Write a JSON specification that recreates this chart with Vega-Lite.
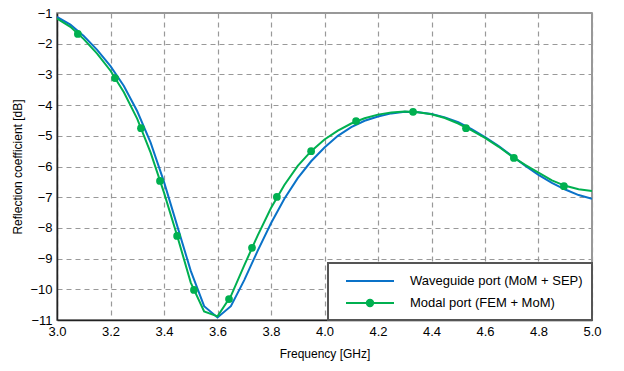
{
  "$schema": "https://vega.github.io/schema/vega-lite/v6.json",
  "width": 535,
  "height": 307,
  "autosize": "none",
  "padding": {"left": 57, "top": 13, "right": 32, "bottom": 51},
  "background": "white",
  "config": {
    "font": "Liberation Sans",
    "view": {"stroke": "#777", "strokeWidth": 1.5},
    "axis": {
      "labelFont": "Liberation Sans",
      "labelFontSize": 13,
      "labelColor": "#000",
      "labelFlush": false,
      "titleFont": "Liberation Sans",
      "titleFontSize": 12,
      "titleFontWeight": "normal",
      "titleColor": "#000",
      "grid": true,
      "gridColor": "#999",
      "gridDash": [5, 4],
      "gridWidth": 1.2,
      "gridOpacity": 1,
      "domainColor": "#222",
      "domainWidth": 1.5,
      "ticks": false,
      "labelPadding": 5
    },
    "legend": {
      "orient": "bottom-right",
      "offset": 0,
      "fillColor": "white",
      "strokeColor": "#555",
      "padding": 9,
      "labelFont": "Liberation Sans",
      "labelFontSize": 13,
      "labelColor": "#000",
      "labelOffset": 55,
      "labelLimit": 400,
      "rowPadding": 6,
      "symbolSize": 256,
      "symbolStrokeWidth": 2
    }
  },
  "datasets": {
    "wg": [
      {"f": 3.00, "db": -1.13}, {"f": 3.05, "db": -1.38}, {"f": 3.10, "db": -1.75}, {"f": 3.15, "db": -2.2},
      {"f": 3.20, "db": -2.73}, {"f": 3.25, "db": -3.38}, {"f": 3.30, "db": -4.2}, {"f": 3.35, "db": -5.22},
      {"f": 3.40, "db": -6.5}, {"f": 3.45, "db": -7.95}, {"f": 3.50, "db": -9.4}, {"f": 3.55, "db": -10.55},
      {"f": 3.60, "db": -10.92}, {"f": 3.65, "db": -10.55}, {"f": 3.70, "db": -9.7}, {"f": 3.75, "db": -8.75},
      {"f": 3.80, "db": -7.85}, {"f": 3.85, "db": -7.05}, {"f": 3.90, "db": -6.38}, {"f": 3.95, "db": -5.83},
      {"f": 4.00, "db": -5.38}, {"f": 4.05, "db": -5.0}, {"f": 4.10, "db": -4.72}, {"f": 4.15, "db": -4.51},
      {"f": 4.20, "db": -4.37}, {"f": 4.25, "db": -4.27}, {"f": 4.30, "db": -4.22}, {"f": 4.35, "db": -4.23},
      {"f": 4.40, "db": -4.29}, {"f": 4.45, "db": -4.4}, {"f": 4.50, "db": -4.56}, {"f": 4.55, "db": -4.78},
      {"f": 4.60, "db": -5.04}, {"f": 4.65, "db": -5.33}, {"f": 4.70, "db": -5.65}, {"f": 4.75, "db": -5.97},
      {"f": 4.80, "db": -6.27}, {"f": 4.85, "db": -6.53}, {"f": 4.90, "db": -6.75}, {"f": 4.95, "db": -6.93},
      {"f": 5.00, "db": -7.05}
    ],
    "modal": [
      {"f": 3.00, "db": -1.18}, {"f": 3.05, "db": -1.45}, {"f": 3.10, "db": -1.85}, {"f": 3.15, "db": -2.32},
      {"f": 3.20, "db": -2.88}, {"f": 3.25, "db": -3.58}, {"f": 3.30, "db": -4.45}, {"f": 3.35, "db": -5.55},
      {"f": 3.40, "db": -6.85}, {"f": 3.45, "db": -8.28}, {"f": 3.50, "db": -9.78}, {"f": 3.55, "db": -10.72},
      {"f": 3.60, "db": -10.88}, {"f": 3.65, "db": -10.22}, {"f": 3.70, "db": -9.22}, {"f": 3.75, "db": -8.25},
      {"f": 3.80, "db": -7.35}, {"f": 3.85, "db": -6.6}, {"f": 3.90, "db": -5.98}, {"f": 3.95, "db": -5.5},
      {"f": 4.00, "db": -5.12}, {"f": 4.05, "db": -4.83}, {"f": 4.10, "db": -4.6}, {"f": 4.15, "db": -4.43},
      {"f": 4.20, "db": -4.31}, {"f": 4.25, "db": -4.24}, {"f": 4.30, "db": -4.21}, {"f": 4.35, "db": -4.23},
      {"f": 4.40, "db": -4.3}, {"f": 4.45, "db": -4.42}, {"f": 4.50, "db": -4.6}, {"f": 4.55, "db": -4.82},
      {"f": 4.60, "db": -5.07}, {"f": 4.65, "db": -5.35}, {"f": 4.70, "db": -5.67}, {"f": 4.75, "db": -5.95},
      {"f": 4.80, "db": -6.2}, {"f": 4.85, "db": -6.45}, {"f": 4.90, "db": -6.63}, {"f": 4.95, "db": -6.74},
      {"f": 5.00, "db": -6.8}
    ],
    "markers": [
      {"f": 3.078, "db": -1.68}, {"f": 3.217, "db": -3.12}, {"f": 3.314, "db": -4.75}, {"f": 3.385, "db": -6.47},
      {"f": 3.449, "db": -8.26}, {"f": 3.512, "db": -10.02}, {"f": 3.643, "db": -10.32}, {"f": 3.729, "db": -8.65},
      {"f": 3.822, "db": -6.99}, {"f": 3.950, "db": -5.5}, {"f": 4.118, "db": -4.52}, {"f": 4.331, "db": -4.22},
      {"f": 4.529, "db": -4.75}, {"f": 4.708, "db": -5.72}, {"f": 4.895, "db": -6.64}
    ]
  },
  "encoding": {
    "x": {
      "field": "f", "type": "quantitative",
      "scale": {"domain": [3, 5], "nice": false, "zero": false},
      "axis": {"title": "Frequency [GHz]", "values": [3.0, 3.2, 3.4, 3.6, 3.8, 4.0, 4.2, 4.4, 4.6, 4.8, 5.0], "format": ".1f", "titlePadding": 10}
    },
    "y": {
      "field": "db", "type": "quantitative",
      "scale": {"domain": [-11, -1], "nice": false, "zero": false},
      "axis": {"title": "Reflection coefficient [dB]", "values": [-11, -10, -9, -8, -7, -6, -5, -4, -3, -2, -1], "format": "d", "titlePadding": 5}
    },
    "color": {
      "field": "series", "type": "nominal",
      "scale": {"domain": ["Waveguide port (MoM + SEP)", "Modal port (FEM + MoM)"], "range": ["#0a72c8", "#00b050"]},
      "legend": {
        "title": null,
        "encode": {
          "legend": {"update": {"strokeWidth": {"value": 2}}},
          "symbols": {
            "update": {
              "shape": {"signal": "datum.value === 'Modal port (FEM + MoM)' ? 'M0,0L6,0M3.4,0A0.4,0.4 0 1,1 2.6,0A0.4,0.4 0 1,1 3.4,0Z' : 'M0,0L6,0'"},
              "fill": {"signal": "datum.value === 'Modal port (FEM + MoM)' ? '#00b050' : 'transparent'"},
              "strokeWidth": {"value": 2}
            }
          }
        }
      }
    }
  },
  "layer": [
    {
      "data": {"name": "wg"},
      "transform": [{"calculate": "'Waveguide port (MoM + SEP)'", "as": "series"}],
      "mark": {"type": "line", "strokeWidth": 2, "clip": true}
    },
    {
      "data": {"name": "modal"},
      "transform": [{"calculate": "'Modal port (FEM + MoM)'", "as": "series"}],
      "mark": {"type": "line", "strokeWidth": 2, "clip": true}
    },
    {
      "data": {"name": "markers"},
      "transform": [{"calculate": "'Modal port (FEM + MoM)'", "as": "series"}],
      "mark": {"type": "point", "filled": true, "size": 60, "opacity": 1}
    }
  ]
}
